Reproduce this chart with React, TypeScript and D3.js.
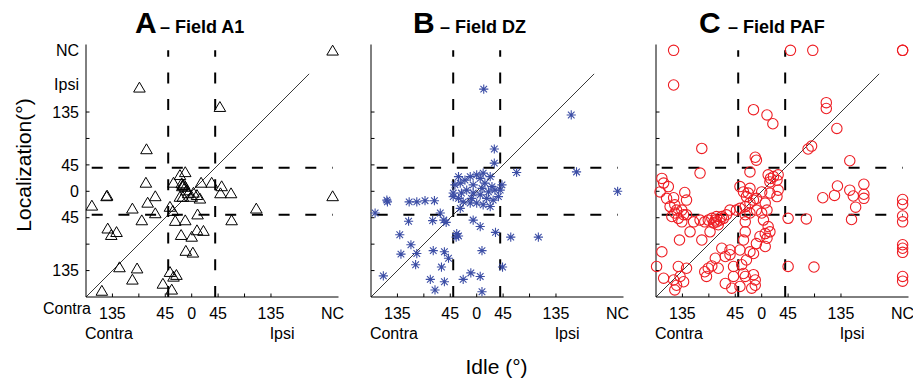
import React from "react";
import * as d3 from "d3";

type P = [number, number];

// Idle (x) vs Localization (y), degrees; NC plotted at 240
const fieldA1: P[] = [
  [240,240],[-89,177],[48,144],[-77,72],[-11,33],[-20,28],[-31,15],[-17,14],[-11,8],[-15,11],
  [16,15],[34,15],[51,9],[67,-3],[49,-3],[240,-8],[-78,15],[-62,-8],[-145,-8],[-144,-7],
  [-170,-24],[-101,-29],[-75,-19],[-62,-37],[-85,-49],[-37,-26],[-32,-33],[-28,-50],[-11,-49],[10,-39],
  [-20,-9],[-6,-3],[3,-2],[9,-6],[14,-12],[0,-9],[-15,-9],[-9,2],[110,-29],[68,-49],
  [-143,-63],[-128,-69],[-137,-74],[-18,-74],[0,-77],[9,-66],[20,-67],[-10,-101],[2,-104],[-123,-129],
  [-93,-131],[-101,-150],[-153,-169],[-37,-137],[-31,-145],[-26,-142],[-49,-157],[-34,-167],[-13,12],[-16,9],
];

const fieldDZ: P[] = [
  [12,174],[161,130],[30,72],[30,48],[68,32],[170,33],[240,0],[-173,-37],[-153,-15],[-152,-18],
  [-115,-18],[-102,-18],[-88,-16],[-72,-16],[-116,-51],[-75,-50],[-62,-37],[-52,-53],[-56,-49],[-40,-9],
  [-131,-74],[-112,-91],[-129,-107],[-102,-106],[-104,-125],[-159,-144],[-74,-101],[-55,-103],[-48,-114],[-60,-129],
  [-79,-150],[-71,-168],[-55,-154],[-34,-72],[-31,-76],[-35,-78],[-23,-150],[-10,-139],[6,-145],[9,-171],
  [9,-101],[-6,-49],[6,-60],[32,-70],[58,-78],[105,-78],[44,-129],
  [-31,25],[-28,14],[-20,19],[-11,25],[-6,11],[0,28],[6,22],[11,31],[14,14],[23,25],
  [26,8],[20,-1],[31,2],[40,2],[37,-9],[28,-15],[17,-12],[6,-6],[-6,-3],[-17,2],
  [-26,-3],[-31,-12],[-23,-18],[-11,-20],[0,-20],[11,-23],[23,-26],[-28,-29],[-37,11],[-40,-3],
  [9,5],[-9,-12],[43,11],
];

const fieldPAF: P[] = [
  [-150,240],[49,240],[87,240],[240,240],[240,240],[-150,181],[-14,139],[9,130],[19,115],[110,151],
  [110,141],[128,107],[79,72],[85,77],[-102,73],[-11,58],[-9,53],[150,52],[15,22],[104,-11],
  [124,-7],[129,9],[150,2],[156,-8],[160,-27],[153,-48],[174,12],[174,-5],[174,-12],[76,-47],
  [89,-129],[240,-14],[240,-22],[240,-42],[240,-52],[240,-91],[240,-97],[240,-104],[240,-145],[240,-153],
  [-20,33],[11,28],[-105,31],[-170,22],[-167,14],[-173,-1],[-159,8],[-131,-2],[-162,-12],[-150,-11],
  [-128,-15],[-148,-23],[-156,-26],[-145,-32],[-136,-32],[-133,-40],[-148,-37],[-142,-46],[-136,-52],[-153,-43],
  [-128,-40],[-116,-52],[-105,-49],[-97,-52],[-91,-49],[-85,-46],[-79,-49],[-77,-52],[-71,-49],[-65,-46],
  [-60,-40],[-54,-32],[-68,-43],[-77,-43],[-82,-54],[-74,-57],[-122,-69],[-102,-83],[-88,-69],[-140,-83],
  [-170,-103],[-179,-128],[-167,-148],[-142,-128],[-128,-131],[-139,-145],[-150,-151],[-145,-160],[-148,-168],[-133,-154],
  [-91,-131],[-85,-127],[-97,-137],[-94,-145],[-79,-114],[-68,-97],[-54,-100],[-54,-108],[-62,-111],[-74,-131],
  [-48,-128],[-62,-157],[-51,-165],
  [-37,8],[-31,-1],[-26,-9],[-20,5],[-23,-3],[-14,-15],[-9,-12],[-20,-20],[-28,-26],[-37,-29],
  [-43,-32],[-28,-40],[-20,-37],[-9,-32],[0,-37],[9,-32],[6,-20],[0,-1],[14,-3],[26,-9],
  [3,-49],[11,-60],[-28,-52],[-28,-69],[-31,-83],[-9,-89],[-20,-103],[6,-72],[-3,-77],[9,-80],
  [14,-69],[6,-94],[-37,-100],[-14,-106],[-34,-125],[-26,-117],[-31,-140],[-28,-145],[-14,-142],[-11,-151],
  [-11,-160],[-17,-165],[-37,-162],[-48,-145],[28,2],[26,19],[28,28],[14,16],[20,25],[45,-46],
  [45,-128],
];

const panelLetters = ["A", "B", "C"];
const panelTitles = ["– Field A1", "– Field DZ", "– Field PAF"];
const xTickVals = [-135, -45, 0, 45, 135, 240];
const xTickText = ["135", "45", "0", "45", "135", "NC"];
const yTickVals = [240, 182, 135, 45, 0, -45, -135];
const yTickText = ["NC", "Ipsi", "135", "45", "0", "45", "135"];
const tickMarks = [-135, -90, -45, 0, 45, 90, 135];
const sideLabels = ["Contra", "Ipsi"];
const sideLabelVals = [-141, 154];
const guideVals = [-40, 40];
const domain: [number, number] = [-180, 250];
const NC = 240;
const diagEnd = 200;

const FONT = "'Liberation Sans', Arial, Helvetica, sans-serif";
const panelLefts = [86, 371, 656];
const top = 44.5, bottom = 297, plotW = 252.5;
const titleX = [135, 413, 699];
const titleGap = [25, 27, 29];

const BLUE = "#3c4ea6";
const RED = "#ee1d23";

function Marker({ kind, x, y }: { kind: number; x: number; y: number }) {
  if (kind === 0) {
    const h = 5.2, w = 5.8;
    return (
      <path
        d={`M${x},${y - h}L${x + w},${y + h - 0.5}L${x - w},${y + h - 0.5}Z`}
        fill="none" stroke="#000" strokeWidth={1} />
    );
  }
  if (kind === 1) {
    const r = 4.6, dd = r * 0.72;
    return (
      <path
        d={`M${x},${y - r}L${x},${y + r}M${x - r},${y}L${x + r},${y}M${x - dd},${y - dd}L${x + dd},${y + dd}M${x - dd},${y + dd}L${x + dd},${y - dd}`}
        stroke={BLUE} strokeWidth={1.1} fill="none" />
    );
  }
  return <circle cx={x} cy={y} r={5.2} fill="none" stroke={RED} strokeWidth={1.1} />;
}

function Panel({ idx, data }: { idx: number; data: P[] }) {
  const left = panelLefts[idx];
  const xs = d3.scaleLinear().domain(domain).range([left, left + plotW]);
  const ys = d3.scaleLinear().domain(domain).range([bottom, top]);
  const line = d3.line<P>().x((d) => xs(d[0])).y((d) => ys(d[1]));
  return (
    <g>
      {/* dashed guides */}
      {guideVals.map((v, i) => (
        <path key={"h" + i}
          d={line([[domain[0], v], [NC, v]]) || ""}
          stroke="#000" strokeWidth={2} strokeDasharray="11 15.7" strokeDashoffset={21} fill="none" />
      ))}
      {guideVals.map((v, i) => (
        <path key={"v" + i}
          d={line([[v, domain[0]], [v, NC]]) || ""}
          stroke="#000" strokeWidth={2} strokeDasharray="11 15.7" fill="none" />
      ))}
      {/* identity line */}
      <path d={line([[domain[0], domain[0]], [diagEnd, diagEnd]]) || ""} stroke="#222" strokeWidth={0.9} fill="none" />
      {/* axes */}
      <line x1={left} x2={left} y1={top} y2={bottom} stroke="#000" strokeWidth={1} />
      <line x1={left} x2={left + plotW} y1={bottom} y2={bottom} stroke="#000" strokeWidth={1} />
      {tickMarks.map((t) => (
        <g key={"t" + t}>
          <line x1={xs(t)} x2={xs(t)} y1={bottom} y2={bottom - 3.5} stroke="#000" strokeWidth={1} />
          <line x1={left} x2={left + 3.5} y1={ys(t)} y2={ys(t)} stroke="#000" strokeWidth={1} />
        </g>
      ))}
      {/* markers */}
      {data.map((d, i) => (
        <Marker key={i} kind={idx} x={xs(d[0])} y={ys(d[1])} />
      ))}
      {/* x tick labels */}
      {xTickVals.map((v, i) => (
        <text key={"xl" + i} x={xs(v)} y={318.5} textAnchor="middle" fontSize={16} fontFamily={FONT}>
          {xTickText[i]}
        </text>
      ))}
      {sideLabels.map((s, i) => (
        <text key={"sl" + i} x={xs(sideLabelVals[i])} y={338.5} textAnchor="middle" fontSize={16} fontFamily={FONT}>
          {s}
        </text>
      ))}
      {/* titles */}
      <text x={titleX[idx]} y={33} fontSize={30} fontWeight="bold" fontFamily={FONT}>
        {panelLetters[idx]}
      </text>
      <text x={titleX[idx] + titleGap[idx]} y={33} fontSize={18} fontWeight="bold" fontFamily={FONT}>
        {panelTitles[idx]}
      </text>
      {idx === 0 && (
        <g>
          {yTickVals.map((v, i) => (
            <text key={"yl" + i} x={left - 7} y={ys(v) + 5.7} textAnchor="end" fontSize={16} fontFamily={FONT}>
              {yTickText[i]}
            </text>
          ))}
          <text x={xs(domain[0]) - 19} y={ys(domain[0]) + 16.5} textAnchor="middle" fontSize={16} fontFamily={FONT}>
            Contra
          </text>
        </g>
      )}
    </g>
  );
}

export default function App() {
  const sets = [fieldA1, fieldDZ, fieldPAF];
  return (
    <svg width={913} height={379} style={{ position: "absolute", left: 0, top: 0, background: "#fff" }}>
      <rect width={913} height={379} fill="#fff" />
      {sets.map((d, i) => (
        <Panel key={i} idx={i} data={d} />
      ))}
      <text transform="translate(31,165) rotate(-90)" textAnchor="middle" fontSize={21} fontFamily={FONT}>
        Localization(°)
      </text>
      <text x={496.5} y={374} textAnchor="middle" fontSize={21} fontFamily={FONT}>
        Idle (°)
      </text>
    </svg>
  );
}
